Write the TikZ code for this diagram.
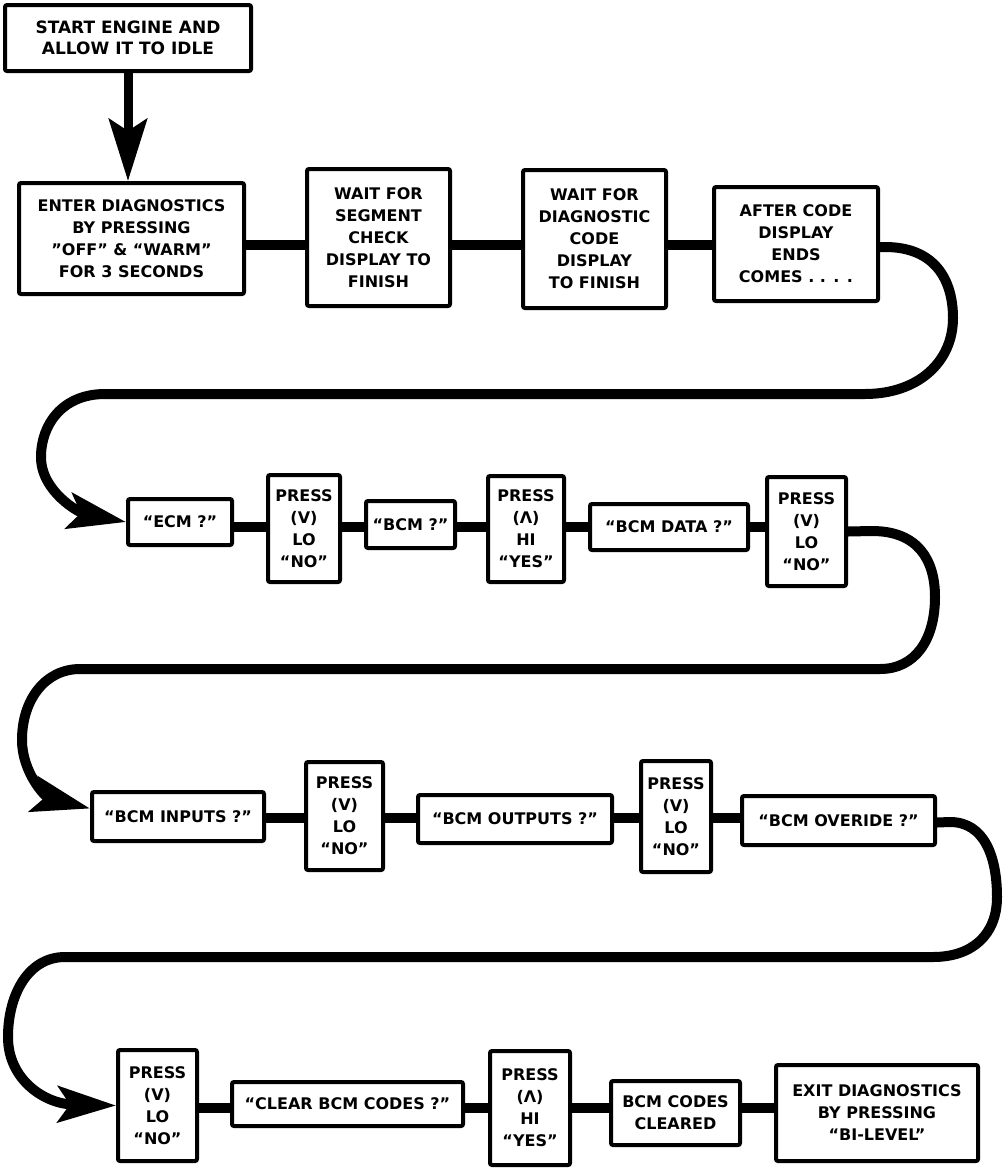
\documentclass[tikz,border=0pt]{standalone}
\usepackage{fontspec}
\setmainfont{DejaVu Sans}
\usetikzlibrary{arrows.meta}
\tikzset{
  box/.style={draw, line width=4pt, rounded corners=2pt, fill=white, align=center,
    inner sep=0pt, font=\bfseries\fontsize{16}{22}\selectfont},
  conn/.style={line width=10pt},
  loop/.style={line width=10pt, -{Stealth[length=58pt,width=36pt,inset=12pt]}},
  down/.style={line width=9pt, -{Stealth[length=62pt,width=38pt,inset=12pt]}},
}
\begin{document}
\begin{tikzpicture}[x=1pt,y=-1pt]
\useasboundingbox[fill=white] (0,0) rectangle (1008,1168);
% row coordinates
\coordinate (r1) at (0,245);
\coordinate (r2) at (0,527);
\coordinate (r3) at (0,818);
\coordinate (r4) at (0,1108);
% row 0
\node[box, font=\bfseries\fontsize{17}{21}\selectfont, minimum width=246pt, minimum height=66pt] (start) at (128,38) {START ENGINE AND\\ALLOW IT TO IDLE};
% row 1
\node[box, minimum width=225pt, minimum height=111pt] (enter) at (131.5,238.5) {ENTER DIAGNOSTICS\\BY PRESSING\\"OFF" \& “WARM”\\FOR 3 SECONDS};
\node[box, minimum width=143pt, minimum height=137pt] (seg) at (378.5,237.5) {WAIT FOR\\SEGMENT\\CHECK\\DISPLAY TO\\FINISH};
\node[box, minimum width=143pt, minimum height=138pt] (diag) at (594.5,239) {WAIT FOR\\DIAGNOSTIC\\CODE\\DISPLAY\\TO FINISH};
\node[box, minimum width=164pt, minimum height=114pt] (after) at (796,244) {AFTER CODE\\DISPLAY\\ENDS\\COMES . . . .};
% row 2
\node[box, minimum width=104pt, minimum height=46pt] (ecm) at (180,522) {“ECM ?”};
\node[box, minimum width=72pt, minimum height=107pt] (p1) at (304,528.5) {PRESS\\(V)\\LO\\“NO”};
\node[box, minimum width=89pt, minimum height=47pt] (bcm) at (410.5,524.5) {“BCM ?”};
\node[box, minimum width=76pt, minimum height=106pt] (p2) at (526,529) {PRESS\\(Λ)\\HI\\“YES”};
\node[box, minimum width=158pt, minimum height=46pt] (data) at (669,527) {“BCM DATA ?”};
\node[box, minimum width=79pt, minimum height=109pt] (p3) at (806.5,531.5) {PRESS\\(V)\\LO\\“NO”};
% row 3
\node[box, minimum width=172pt, minimum height=49pt] (inputs) at (178,816.5) {“BCM INPUTS ?”};
\node[box, minimum width=77pt, minimum height=108pt] (p4) at (344.5,816) {PRESS\\(V)\\LO\\“NO”};
\node[box, minimum width=194pt, minimum height=48pt] (outputs) at (515,819) {“BCM OUTPUTS ?”};
\node[box, minimum width=70pt, minimum height=111pt] (p5) at (676,816.5) {PRESS\\(V)\\LO\\“NO”};
\node[box, minimum width=193pt, minimum height=49pt] (override) at (838.5,820.5) {“BCM OVERIDE ?”};
% row 4
\node[box, minimum width=79pt, minimum height=111pt] (p6) at (157.5,1105.5) {PRESS\\(V)\\LO\\“NO”};
\node[box, minimum width=231pt, minimum height=44pt] (clear) at (347.5,1104) {“CLEAR BCM CODES ?”};
\node[box, minimum width=80pt, minimum height=114pt] (p7) at (530,1108) {PRESS\\(Λ)\\HI\\“YES”};
\node[box, minimum width=129pt, minimum height=64pt] (cleared) at (675.5,1113) {BCM CODES\\CLEARED};
\node[box, minimum width=202pt, minimum height=96pt] (exit) at (877,1113) {EXIT DIAGNOSTICS\\BY PRESSING\\“BI-LEVEL”};
% vertical arrow
\draw[down] (start.south) -- (start.south |- enter.north);
% row connectors
\draw[conn] (enter.east |- r1) -- (seg.west |- r1);
\draw[conn] (seg.east |- r1) -- (diag.west |- r1);
\draw[conn] (diag.east |- r1) -- (after.west |- r1);
\draw[conn] (ecm.east |- r2) -- (p1.west |- r2);
\draw[conn] (p1.east |- r2) -- (bcm.west |- r2);
\draw[conn] (bcm.east |- r2) -- (p2.west |- r2);
\draw[conn] (p2.east |- r2) -- (data.west |- r2);
\draw[conn] (data.east |- r2) -- (p3.west |- r2);
\draw[conn] (inputs.east |- r3) -- (p4.west |- r3);
\draw[conn] (p4.east |- r3) -- (outputs.west |- r3);
\draw[conn] (outputs.east |- r3) -- (p5.west |- r3);
\draw[conn] (p5.east |- r3) -- (override.west |- r3);
\draw[conn] (p6.east |- r4) -- (clear.west |- r4);
\draw[conn] (clear.east |- r4) -- (p7.west |- r4);
\draw[conn] (p7.east |- r4) -- (cleared.west |- r4);
\draw[conn] (cleared.east |- r4) -- (exit.west |- r4);
% loops
\draw[loop] ([yshift=-3pt]after.east) -- (885,247)
  .. controls (935,247) and (953,280) .. (953,318)
  .. controls (953,362) and (918,394) .. (865,394) -- (105,394)
  .. controls (62,394) and (41,425) .. (41,457)
  .. controls (41,492) and (80,513) .. (ecm.west);
\draw[loop] (p3.east) -- (872,531)
  .. controls (918,531) and (935,560) .. (935,597)
  .. controls (935,640) and (915,669) .. (880,669) -- (80,669)
  .. controls (45,669) and (22,700) .. (22,740)
  .. controls (22,772) and (45,797) .. ([yshift=8pt]inputs.west);
\draw[loop] ([yshift=-2pt]override.east) -- (950,822)
  .. controls (985,822) and (997,858) .. (997,897)
  .. controls (997,935) and (972,957) .. (933,957) -- (65,957)
  .. controls (28,957) and (8,995) .. (8,1037)
  .. controls (8,1080) and (45,1104) .. (p6.west);
\end{tikzpicture}
\end{document}
